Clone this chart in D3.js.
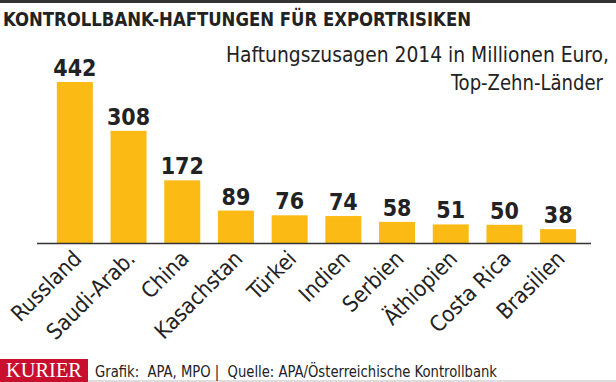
<!DOCTYPE html>
<html>
<head>
<meta charset="utf-8">
<script src="https://cdn.jsdelivr.net/npm/d3@7"></script>
<style>
  body { margin: 0; background: #fff; }
  svg text { font-family: "Liberation Sans Narrow", "DejaVu Sans Condensed", Roboto, sans-serif; }
</style>
</head>
<body>
<div id="container"></div>
<script>
const countries = ['Russland', 'Saudi-Arab.', 'China', 'Kasachstan', 'Türkei', 'Indien', 'Serbien', 'Äthiopien', 'Costa Rica', 'Brasilien'];
const values = [442, 308, 172, 89, 76, 74, 58, 51, 50, 38];

const title = 'KONTROLLBANK-HAFTUNGEN FÜR EXPORTRISIKEN';
const subtitle = ['Haftungszusagen 2014 in Millionen Euro,', 'Top-Zehn-Länder'];
const source = 'Grafik:  APA, MPO |  Quelle: APA/Österreichische Kontrollbank';

const data = countries.map((c, i) => ({ country: c, value: values[i] }));

const svg = d3.select('#container')
    .append('svg')
    .attr('width', 616)
    .attr('height', 382);

// top rule
svg.append('rect')
    .attr('x', 0).attr('y', 0)
    .attr('width', 616).attr('height', 3)
    .style('fill', '#333');

svg.append('text')
    .attr('x', 3).attr('y', 26)
    .attr('textLength', 468)
    .attr('lengthAdjust', 'spacingAndGlyphs')
    .style('font-size', '20px')
    .style('font-weight', 'bold')
    .style('fill', '#222')
    .text(title);

svg.append('text')
    .attr('x', 609).attr('y', 62)
    .attr('text-anchor', 'end')
    .attr('textLength', 383)
    .attr('lengthAdjust', 'spacingAndGlyphs')
    .style('font-size', '21px')
    .style('fill', '#222')
    .text(subtitle[0]);

svg.append('text')
    .attr('x', 603).attr('y', 90)
    .attr('text-anchor', 'end')
    .attr('textLength', 152)
    .attr('lengthAdjust', 'spacingAndGlyphs')
    .style('font-size', '21px')
    .style('fill', '#222')
    .text(subtitle[1]);

const xScale = d3.scaleBand()
    .domain(countries)
    .range([48, 585])
    .paddingInner(0.33)
    .paddingOuter(0.165);

const yScale = d3.scaleLinear()
    .domain([0, 442])
    .range([243, 82]);

const chart = svg.append('g').attr('class', 'bars');

chart.selectAll('rect')
    .data(data)
    .enter()
    .append('rect')
        .attr('x', d => xScale(d.country))
        .attr('y', d => yScale(d.value))
        .attr('width', xScale.bandwidth())
        .attr('height', d => yScale(0) - yScale(d.value))
        .style('fill', '#FBBA14');

chart.selectAll('text.value')
    .data(data)
    .enter()
    .append('text')
        .attr('class', 'value')
        .attr('x', d => xScale(d.country) + xScale.bandwidth() / 2)
        .attr('y', d => yScale(d.value) - 6)
        .attr('text-anchor', 'middle')
        .style('font-size', '23px')
        .style('font-weight', 'bold')
        .style('fill', '#222')
        .text(d => d.value);

// baseline
svg.append('line')
    .attr('x1', 37).attr('x2', 591)
    .attr('y1', yScale(0) + 0.5).attr('y2', yScale(0) + 0.5)
    .style('stroke', '#333')
    .style('stroke-width', 1.5);

const xAxis = d3.axisBottom(xScale).tickSize(0).tickPadding(0);

svg.append('g')
    .attr('class', 'axis')
    .attr('transform', 'translate(0,' + 243 + ')')
    .call(xAxis)
    .call(g => g.select('.domain').remove())
    .call(g => g.selectAll('text')
        .attr('x', 0).attr('y', 0).attr('dy', 0)
        .attr('text-anchor', 'end')
        .attr('transform', 'translate(8,17) rotate(-45)')
        .style('font-size', '22px')
        .style('font-family', '"Liberation Sans Narrow", "DejaVu Sans Condensed", Roboto, sans-serif')
        .style('fill', '#222'));

// footer
svg.append('rect')
    .attr('x', 0).attr('y', 359)
    .attr('width', 88).attr('height', 23)
    .style('fill', '#C8102E');

svg.append('text')
    .attr('x', 44).attr('y', 377)
    .attr('text-anchor', 'middle')
    .attr('textLength', 76)
    .attr('lengthAdjust', 'spacingAndGlyphs')
    .style('font-family', '"Liberation Serif", "DejaVu Serif", serif')
    .style('font-size', '20px')
    .style('fill', '#fff')
    .text('KURIER');

svg.append('line')
    .attr('x1', 88).attr('x2', 616)
    .attr('y1', 381).attr('y2', 381)
    .style('stroke', '#bbb')
    .style('stroke-width', 1);

svg.append('text')
    .attr('x', 95).attr('y', 377)
    .attr('textLength', 402)
    .attr('lengthAdjust', 'spacingAndGlyphs')
    .style('font-size', '16px')
    .style('white-space', 'pre')
    .style('fill', '#222')
    .text(source);
</script>
</body>
</html>
